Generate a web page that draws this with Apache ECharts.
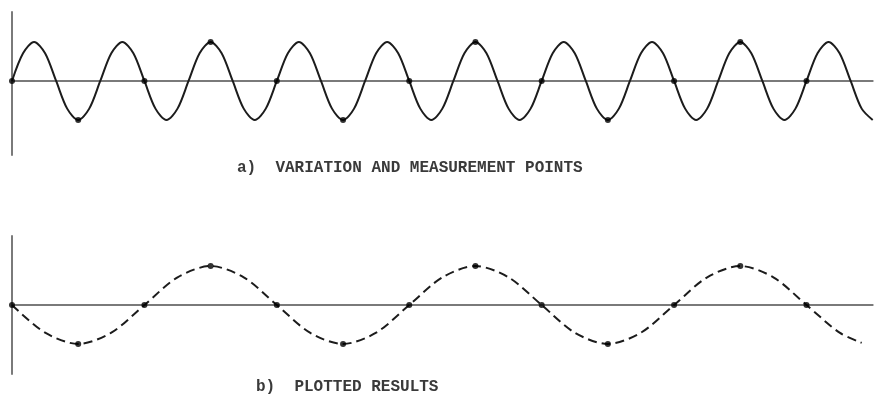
<!DOCTYPE html>
<html>
<head>
<meta charset="utf-8">
<script src="https://cdn.jsdelivr.net/npm/echarts@6/dist/echarts.min.js"></script>
<style>
  html, body { margin: 0; padding: 0; background: #fff; }
  #chart { width: 874px; height: 396px; }
</style>
</head>
<body>
<div id="chart"></div>
<script>
// Time runs in steps of 1/8 of the signal period (x index).
// Signal: fast sine, read at eighth-period points.
const variation = [
  0, 0.71, 1, 0.71, 0, -0.71, -1, -0.71,
  0, 0.71, 1, 0.71, 0, -0.71, -1, -0.71,
  0, 0.71, 1, 0.71, 0, -0.71, -1, -0.71,
  0, 0.71, 1, 0.71, 0, -0.71, -1, -0.71,
  0, 0.71, 1, 0.71, 0, -0.71, -1, -0.71,
  0, 0.71, 1, 0.71, 0, -0.71, -1, -0.71,
  0, 0.71, 1, 0.71, 0, -0.71, -1, -0.71,
  0, 0.71, 1, 0.71, 0, -0.71, -1, -0.71,
  0, 0.71, 1, 0.71, 0, -0.71, -1, -0.71,
  0, 0.71, 1, 0.71, 0, -0.71, -1
];

// Measurement instants (x index) and the values read there.
const sampleIndex = [0, 6, 12, 18, 24, 30, 36, 42, 48, 54, 60, 66, 72];
const sampleValue = [0, -1, 0, 1, 0, -1, 0, 1, 0, -1, 0, 1, 0];

// Plotted (apparent) result: slow wave through the same samples.
const resultIndex = [0, 3, 6, 9, 12, 15, 18, 21, 24, 27, 30, 33, 36, 39,
                     42, 45, 48, 51, 54, 57, 60, 63, 66, 69, 72, 75, 77];
const resultValue = [0, -0.71, -1, -0.71, 0, 0.71, 1, 0.71, 0, -0.71, -1, -0.71, 0, 0.71,
                     1, 0.71, 0, -0.71, -1, -0.71, 0, 0.71, 1, 0.71, 0, -0.71, -0.97];

const captionA = 'a)  VARIATION AND MEASUREMENT POINTS';
const captionB = 'b)  PLOTTED RESULTS';

const ink = '#1c1c1c';
const axisGray = '#7a7a7a';

const chart = echarts.init(document.getElementById('chart'));

const pairs = (xs, ys) => xs.map((x, i) => [x, ys[i]]);

function xAxisCfg(gridIndex) {
  return {
    type: 'value', gridIndex, min: 0, max: 78,
    axisLine: { onZero: true, lineStyle: { color: axisGray, width: 2 } },
    axisTick: { show: false }, axisLabel: { show: false }, splitLine: { show: false }
  };
}
function yAxisCfg(gridIndex, min, max) {
  return {
    type: 'value', gridIndex, min, max,
    axisLine: { show: true, onZero: false, lineStyle: { color: axisGray, width: 2 } },
    axisTick: { show: false }, axisLabel: { show: false }, splitLine: { show: false }
  };
}

chart.setOption({
  animation: false,
  backgroundColor: '#fff',
  grid: [
    { left: 12, top: 12, width: 860.7, height: 143 },
    { left: 12, top: 236, width: 860.7, height: 138 }
  ],
  xAxis: [xAxisCfg(0), xAxisCfg(1)],
  yAxis: [yAxisCfg(0, -1.9, 1.77), yAxisCfg(1, -1.77, 1.77)],
  series: [
    {
      type: 'line', xAxisIndex: 0, yAxisIndex: 0,
      data: variation.map((v, i) => [i, v]),
      smooth: 0.3, showSymbol: false,
      lineStyle: { color: ink, width: 2 }
    },
    {
      type: 'scatter', xAxisIndex: 0, yAxisIndex: 0,
      data: pairs(sampleIndex, sampleValue),
      symbolSize: 6, itemStyle: { color: '#000' }, z: 5
    },
    {
      type: 'line', xAxisIndex: 1, yAxisIndex: 1,
      data: pairs(resultIndex, resultValue),
      smooth: 0.3, showSymbol: false,
      lineStyle: { color: ink, width: 2, type: [9, 5] }
    },
    {
      type: 'scatter', xAxisIndex: 1, yAxisIndex: 1,
      data: pairs(sampleIndex, sampleValue),
      symbolSize: 6, itemStyle: { color: '#000' }, z: 5
    }
  ],
  graphic: [
    {
      type: 'text', left: 237, top: 160,
      style: { text: captionA, font: 'bold 16px "Liberation Mono"', fill: '#3a3a3a' }
    },
    {
      type: 'text', left: 256, top: 379,
      style: { text: captionB, font: 'bold 16px "Liberation Mono"', fill: '#3a3a3a' }
    }
  ]
});
</script>
</body>
</html>
